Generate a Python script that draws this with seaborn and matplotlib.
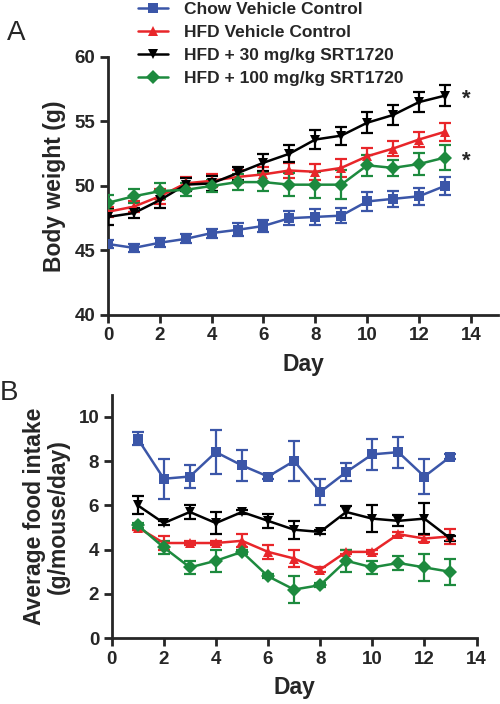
import numpy as np
import pandas as pd
import matplotlib
matplotlib.use("Agg")
import matplotlib.pyplot as plt
import seaborn as sns

sns.set_theme(style="ticks")
plt.rcParams['font.family'] = ['Liberation Sans', 'DejaVu Sans']

groups = ["Chow Vehicle Control", "HFD Vehicle Control",
          "HFD + 30 mg/kg SRT1720", "HFD + 100 mg/kg SRT1720"]
colors = ["#3b56a8", "#e8262a", "#000000", "#1d8a3e"]
markers = ["s", "^", "v", "D"]

days_bw = list(range(0, 14))
bw_chow = [45.5, 45.2, 45.6, 45.9, 46.35, 46.6, 46.9, 47.5, 47.6, 47.7, 48.8, 49.0, 49.2, 50.0]
bw_hfd = [48.0, 48.4, 49.2, 50.2, 50.4, 50.7, 50.9, 51.2, 51.1, 51.4, 52.3, 52.9, 53.6, 54.2]
bw_30 = [47.6, 47.9, 48.9, 50.1, 50.2, 51.0, 51.8, 52.5, 53.6, 53.9, 54.9, 55.5, 56.5, 57.0]
bw_100 = [48.7, 49.2, 49.6, 49.7, 50.0, 50.3, 50.3, 50.1, 50.1, 50.1, 51.6, 51.4, 51.7, 52.2]
bw_chow_err = [0.33, 0.3, 0.33, 0.35, 0.35, 0.5, 0.5, 0.55, 0.6, 0.6, 0.75, 0.6, 0.65, 0.7]
bw_hfd_err = [0.4, 0.4, 0.6, 0.5, 0.5, 0.5, 0.6, 0.6, 0.6, 0.7, 0.65, 0.6, 0.6, 0.7]
bw_30_err = [0.65, 0.4, 0.6, 0.5, 0.6, 0.5, 0.65, 0.65, 0.7, 0.7, 0.8, 0.75, 0.75, 0.8]
bw_100_err = [0.6, 0.55, 0.6, 0.5, 0.5, 0.6, 0.7, 0.9, 1.0, 1.1, 0.8, 0.65, 0.85, 1.0]

days_fi = list(range(1, 14))
fi_chow = [9.0, 7.2, 7.3, 8.4, 7.8, 7.3, 8.0, 6.6, 7.5, 8.3, 8.4, 7.3, 8.2]
fi_hfd = [5.0, 4.3, 4.3, 4.3, 4.4, 3.9, 3.6, 3.1, 3.9, 3.9, 4.7, 4.5, 4.6]
fi_30 = [6.0, 5.2, 5.7, 5.2, 5.7, 5.3, 4.9, 4.8, 5.7, 5.4, 5.3, 5.4, 4.5]
fi_100 = [5.1, 4.1, 3.2, 3.5, 3.9, 2.8, 2.2, 2.4, 3.5, 3.2, 3.4, 3.2, 3.0]
fi_chow_err = [0.3, 0.9, 0.5, 1.0, 0.7, 0.1, 0.9, 0.6, 0.4, 0.7, 0.7, 0.8, 0.1]
fi_hfd_err = [0.1, 0.3, 0.1, 0.1, 0.3, 0.3, 0.4, 0.1, 0.1, 0.1, 0.1, 0.15, 0.35]
fi_30_err = [0.4, 0.1, 0.3, 0.5, 0.1, 0.3, 0.4, 0.1, 0.25, 0.6, 0.25, 0.7, 0.1]
fi_100_err = [0.1, 0.3, 0.3, 0.5, 0.1, 0.1, 0.6, 0.1, 0.5, 0.3, 0.3, 0.6, 0.6]

bw_vals = [bw_chow, bw_hfd, bw_30, bw_100]
bw_errs = [bw_chow_err, bw_hfd_err, bw_30_err, bw_100_err]
fi_vals = [fi_chow, fi_hfd, fi_30, fi_100]
fi_errs = [fi_chow_err, fi_hfd_err, fi_30_err, fi_100_err]

def long_df(days, vals, errs):
    rows = []
    for g, v, e in zip(groups, vals, errs):
        for d, y, s in zip(days, v, e):
            rows.append({"Day": d, "value": y, "sem": s, "group": g})
    return pd.DataFrame(rows)

df_bw = long_df(days_bw, bw_vals, bw_errs)
df_fi = long_df(days_fi, fi_vals, fi_errs)

fig = plt.figure(figsize=(5.0, 7.04), dpi=100)
ax1 = fig.add_axes([0.216, 0.5526, 0.780, 0.3665])
ax2 = fig.add_axes([0.2234, 0.0933, 0.7296, 0.3463])

pal = dict(zip(groups, colors))
mk = dict(zip(groups, markers))

def draw(ax, df):
    for i, g in enumerate(groups):
        sub = df[df.group == g]
        ax.errorbar(sub["Day"], sub["value"], yerr=sub["sem"], fmt="none",
                    ecolor=pal[g], elinewidth=1.6, capsize=4.5, capthick=1.6, zorder=2 + i)
    sns.lineplot(data=df, x="Day", y="value", hue="group", style="group",
                 palette=pal, markers=mk, dashes=False, hue_order=groups,
                 style_order=groups, markersize=7, markeredgewidth=0,
                 linewidth=1.8, ax=ax, legend=False, zorder=6)

draw(ax1, df_bw)
draw(ax2, df_fi)

ax1.set_xlim(0, 15.05)
ax2.set_xlim(0, 14)
ax1.set_ylim(40, 60)
ax1.set_yticks(range(40, 61, 5))
ax2.set_ylim(0, 11)
ax2.set_yticks(range(0, 11, 2))

for ax in (ax1, ax2):
    sns.despine(ax=ax)
    ax.spines['left'].set_linewidth(2)
    ax.spines['bottom'].set_linewidth(2)
    ax.set_xticks(range(0, 15, 2))
    ax.tick_params(axis='both', width=2, length=6, direction='out', labelsize=13.5, pad=3)
    for lab in ax.get_xticklabels() + ax.get_yticklabels():
        lab.set_fontweight('bold')

ax1.set_xlabel("Day", fontsize=16.5, fontweight='bold', labelpad=6)
ax1.set_ylabel("Body weight (g)", fontsize=16.5, fontweight='bold', labelpad=6)
ax2.set_xlabel("Day", fontsize=16.5, fontweight='bold', labelpad=6)
ax2.set_ylabel("Average food intake\n(g/mouse/day)", fontsize=16.5, fontweight='bold',
               linespacing=1.05, labelpad=6)

ax1.text(13.67, bw_30[-1] - 0.3, "*", fontsize=16, fontweight='bold', va='center', ha='left', clip_on=False)
ax1.text(13.67, bw_100[-1] - 0.3, "*", fontsize=16, fontweight='bold', va='center', ha='left', clip_on=False)

fig.text(0.014, 1 - 32.5 / 704, "A", fontsize=20, va='center', ha='left')
fig.text(0.0, 1 - 393 / 704, "B", fontsize=20, va='center', ha='left')

handles = []
for g in groups:
    h = plt.Line2D([], [], color=pal[g], marker=mk[g], markersize=7,
                   markeredgewidth=0, linewidth=1.8)
    handles.append(h)
leg = fig.legend(handles, groups, loc='upper left', bbox_to_anchor=(0.245, 1.02),
                 frameon=False, prop={'weight': 'bold', 'size': 12.5},
                 handlelength=1.72, handletextpad=0.92, labelspacing=0.46)

fig.savefig("out.png", dpi=100)
